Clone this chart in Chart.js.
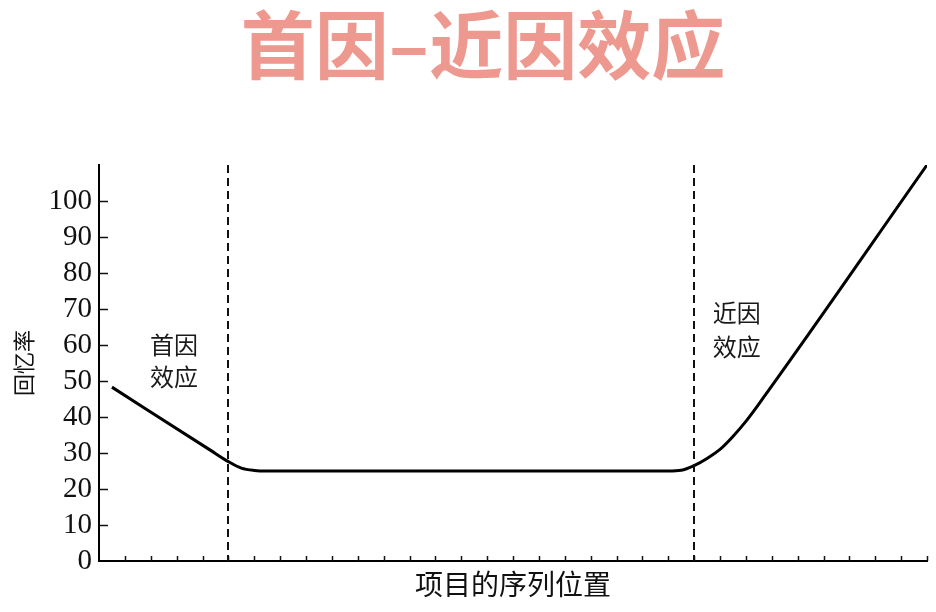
<!DOCTYPE html>
<html>
<head>
<meta charset="utf-8">
<script src="https://cdn.jsdelivr.net/npm/chart.js@4.4.1/dist/chart.umd.min.js"></script>
<style>
  body { margin: 0; background: #ffffff; }
  #wrap { width: 936px; height: 612px; position: relative; }
</style>
</head>
<body>
<div id="wrap"><canvas id="myChart"></canvas></div>
<script>
// ********* DATA *********
// serial position (x) and recall rate (y)
const positions = [0.5, 4.3, 5, 5.5, 6, 6.5, 10, 15, 20, 22, 22.5, 23, 23.5, 24, 24.5, 25, 25.5, 32];
const recallRate = [48.3, 30.8, 27.6, 25.8, 25.15, 25, 25, 25, 25, 25, 25.2, 26.5, 28.5, 31.0, 34.6, 38.8, 43.6, 110];

// y tick labels and x tick positions
const yTickValues = [0, 10, 20, 30, 40, 50, 60, 70, 80, 90, 100];
const xTickValues = [1, 2, 3, 4, 5, 6, 7, 8, 9, 10, 11, 12, 13, 14, 15, 16, 17, 18, 19, 20, 21, 22, 23, 24, 25, 26, 27, 28, 29, 30, 31, 32];

// dashed boundaries between the effects
const boundaries = [5, 23];

// region labels (two lines each) with their place in data units
const regionLabels = [
  { lines: ["首因", "效应"], x: 2.9, y: [60, 51.2] },
  { lines: ["近因", "效应"], x: 24.65, y: [69, 59.6] },
];

const chartTitle = "首因–近因效应";

// ********* PLUGIN *********
const decoPlugin = {
  id: "deco",
  afterDraw: (chart) => {
    const ctx = chart.ctx;
    const xs = chart.scales.x;
    const ys = chart.scales.y;
    const area = chart.chartArea;

    ctx.save();
    // inward tick marks
    ctx.strokeStyle = "#111";
    ctx.lineWidth = 1.5;
    ctx.beginPath();
    yTickValues.forEach((v) => {
      if (v == 0) return;
      const py = Math.round(ys.getPixelForValue(v)) + 0.5;
      ctx.moveTo(area.left, py);
      ctx.lineTo(area.left + 9, py);
    });
    xTickValues.forEach((v) => {
      const px = Math.round(xs.getPixelForValue(v)) + 0.5;
      ctx.moveTo(px, area.bottom);
      ctx.lineTo(px, area.bottom - 5);
    });
    ctx.stroke();

    // dashed boundaries
    ctx.lineWidth = 2;
    ctx.setLineDash([8, 5]);
    ctx.beginPath();
    boundaries.forEach((b) => {
      const px = Math.round(xs.getPixelForValue(b));
      ctx.moveTo(px, area.top);
      ctx.lineTo(px, area.bottom);
    });
    ctx.stroke();
    ctx.setLineDash([]);

    // region labels
    ctx.fillStyle = "#1a1a1a";
    ctx.font = '24px "Noto Sans CJK SC"';
    ctx.textAlign = "center";
    ctx.textBaseline = "middle";
    regionLabels.forEach((r) => {
      r.lines.forEach((t, i) => {
        ctx.fillText(t, xs.getPixelForValue(r.x), ys.getPixelForValue(r.y[i]));
      });
    });

    // big title
    ctx.fillStyle = "#ee998f";
    ctx.font = 'bold 74px "Noto Sans CJK SC"';
    ctx.fillText(chartTitle, 483, 45);
    ctx.restore();
  },
};

// ********* CHART *********
const ctx = document.getElementById("myChart");
new Chart(ctx, {
  type: "line",
  data: {
    datasets: [
      {
        data: positions.map((p, i) => ({ x: p, y: recallRate[i] })),
        borderColor: "#000000",
        borderWidth: 3,
        pointRadius: 0,
        fill: false,
        cubicInterpolationMode: "monotone",
      },
    ],
  },
  options: {
    responsive: true,
    maintainAspectRatio: false,
    animation: false,
    layout: { padding: { top: 165, right: 9, left: 0, bottom: 0 } },
    plugins: {
      legend: { display: false },
      tooltip: { enabled: false },
    },
    scales: {
      x: {
        type: "linear",
        min: 0,
        max: 32,
        grid: { display: false, drawTicks: false },
        border: { color: "#000", width: 2 },
        ticks: { display: false },
        afterFit: (scale) => {
          scale.height = 51;
        },
        title: {
          display: true,
          text: "项目的序列位置",
          color: "#111",
          font: { family: '"Noto Sans CJK SC"', size: 28 },
          padding: { top: 4, bottom: 11 },
        },
      },
      y: {
        min: 0,
        max: 110,
        grid: { display: false, drawTicks: false },
        border: { color: "#000", width: 2 },
        afterBuildTicks: (axis) => {
          axis.ticks = yTickValues.map((v) => ({ value: v }));
        },
        ticks: {
          color: "#111",
          padding: 7,
          font: { family: '"Liberation Serif"', size: 29 },
        },
        afterFit: (scale) => {
          scale.width = 99;
        },
        title: {
          display: true,
          text: "回忆率",
          color: "#111",
          font: { family: '"Noto Sans CJK SC"', size: 22 },
          padding: { top: 10, bottom: 0 },
        },
      },
    },
  },
  plugins: [decoPlugin],
});
</script>
</body>
</html>
